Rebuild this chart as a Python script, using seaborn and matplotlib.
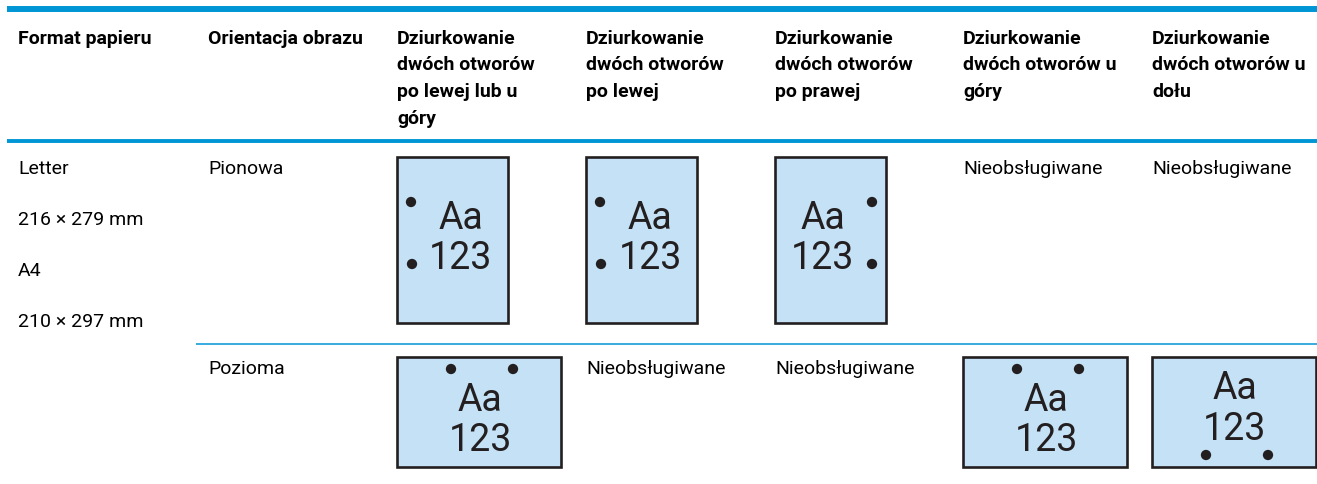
import numpy as np
import pandas as pd
import seaborn as sns
import matplotlib.pyplot as plt
from matplotlib.patches import Rectangle

# table content
headers = ["Format papieru", "Orientacja obrazu",
           "Dziurkowanie\ndwóch otworów\npo lewej lub u\ngóry",
           "Dziurkowanie\ndwóch otworów\npo lewej",
           "Dziurkowanie\ndwóch otworów\npo prawej",
           "Dziurkowanie\ndwóch otworów u\ngóry",
           "Dziurkowanie\ndwóch otworów u\ndołu"]
paper_sizes = ["Letter", "216 × 279 mm", "A4", "210 × 297 mm"]
orientations = ["Pionowa", "Pozioma"]
# hole position per punch column, None = not supported
portrait_cells = ["left", "left", "right", None, None]
landscape_cells = ["top", None, None, "top", "bottom"]
unsupported = "Nieobsługiwane"
sample_text = ["Aa", "123"]

sns.set_theme(style="white")
plt.rcParams['font.family'] = ['Roboto', 'DejaVu Sans']

col_x = [18, 208, 397, 586, 775, 963, 1152]
row_top = [157, 357]
blue = "#0096D6"
fill = "#C4E1F5"
ink = "#231F20"

fig = plt.figure(figsize=(13.17, 4.84), dpi=100)
ax = fig.add_axes([0, 0, 1, 1])
ax.set_xlim(0, 1317)
ax.set_ylim(484, 0)
ax.axis('off')

# rules
ax.plot([7, 1317], [9, 9], color=blue, lw=4.3, solid_capstyle='butt')
ax.plot([7, 1317], [141, 141], color=blue, lw=2.8, solid_capstyle='butt')
ax.plot([196, 1317], [343.5, 343.5], color=blue, lw=1.1, solid_capstyle='butt')

# header
for x, h in zip(col_x, headers):
    for i, line in enumerate(h.split("\n")):
        ax.text(x, 44 + i * 26.5, line, fontsize=14, fontweight='bold',
                color='black', va='baseline', ha='left')

# first column
for i, s in enumerate(paper_sizes):
    ax.text(col_x[0], 174 + i * 51, s, fontsize=14, color='black', va='baseline')

holes = []
for r, (orient, cells) in enumerate(zip(orientations, [portrait_cells, landscape_cells])):
    top = row_top[r]
    ax.text(col_x[1], top + 17, orient, fontsize=14, color='black', va='baseline')
    for c, cell in enumerate(cells):
        x0 = col_x[c + 2]
        if cell is None:
            ax.text(x0, top + 17, unsupported, fontsize=14, color='black', va='baseline')
            continue
        if r == 0:
            w, h = 111, 166
        else:
            w, h = 164, 110
        ax.add_patch(Rectangle((x0, top), w, h, facecolor=fill, edgecolor=ink, lw=1.9))
        if cell == "left":
            cx, ys = x0 + 64, [top + 72, top + 112]
            holes += [(x0 + 14, top + 45), (x0 + 15, top + 107)]
        elif cell == "right":
            cx, ys = x0 + 48, [top + 72, top + 112]
            holes += [(x0 + 97, top + 45), (x0 + 97, top + 107)]
        elif cell == "top":
            cx, ys = x0 + 83, [top + 54, top + 94]
            holes += [(x0 + 54, top + 12), (x0 + 116, top + 12)]
        else:
            cx, ys = x0 + 83, [top + 42, top + 83]
            holes += [(x0 + 54, top + 98), (x0 + 116, top + 98)]
        for t, y in zip(sample_text, ys):
            ax.text(cx, y, t, fontsize=27, color=ink, ha='center', va='baseline',
                    family=['Liberation Sans Narrow', 'Roboto'])

hole_df = pd.DataFrame(holes, columns=['x', 'y'])
sns.scatterplot(data=hole_df, x='x', y='y', s=55, color=ink, edgecolor='none', ax=ax, legend=False)
ax.set_xlim(0, 1317)
ax.set_ylim(484, 0)
ax.axis('off')

fig.savefig("out.png", dpi=100)
